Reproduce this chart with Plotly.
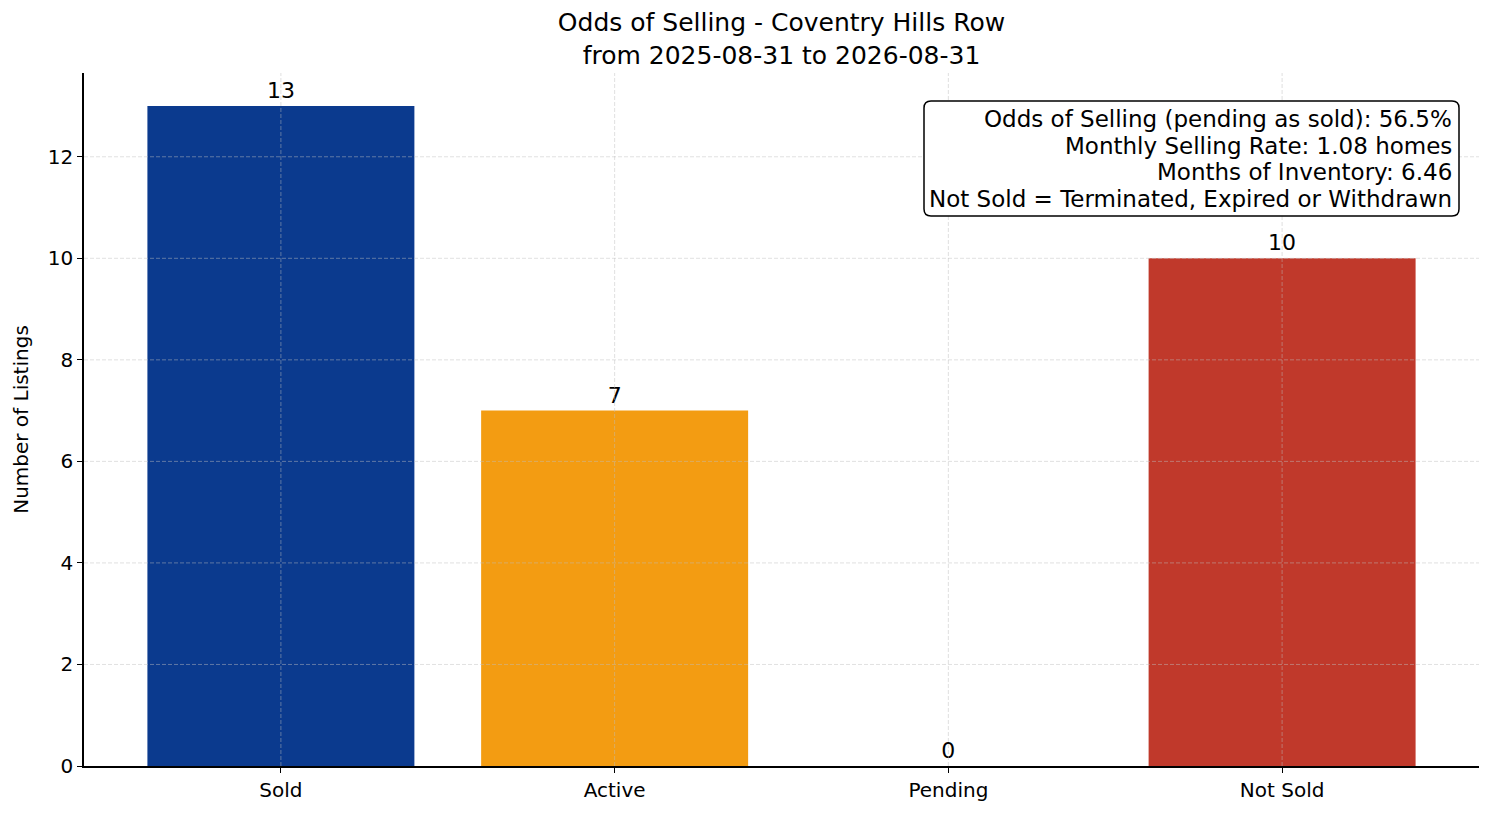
import plotly.graph_objects as go

# data
categories = ["Sold", "Active", "Pending", "Not Sold"]
counts = [13, 7, 0, 10]
bar_colors = ["#0b3a8e", "#f39c12", "#c0392b", "#c0392b"]
y_ticks = [0, 2, 4, 6, 8, 10, 12]
summary_lines = [
    "Odds of Selling (pending as sold): 56.5%",
    "Monthly Selling Rate: 1.08 homes",
    "Months of Inventory: 6.46",
    "Not Sold = Terminated, Expired or Withdrawn",
]
title_lines = ["Odds of Selling - Coventry Hills Row", "from 2025-08-31 to 2026-08-31"]

FONT = "DejaVu Sans"

# the page has an 8px body margin, so the figure is shrunk by that much
W, H = 1486, 808
ML, MR, MT, MB = 76, 15, 65, 50
PW, PH = W - ML - MR, H - MT - MB

fig = go.Figure()
fig.add_trace(go.Bar(
    x=list(range(len(categories))), y=counts,
    width=0.8,
    marker=dict(color=bar_colors, line=dict(width=0)),
    text=[str(c) for c in counts],
    textposition="outside",
    textfont=dict(family=FONT, size=22, color="black"),
    cliponaxis=False,
    showlegend=False,
))

# matplotlib-style grid drawn on top of the bars
grid = dict(color="rgba(190,190,190,0.6)", width=0.8, dash="4px,2px")
for t in y_ticks[1:]:
    fig.add_shape(type="line", xref="paper", yref="y", x0=0, x1=1, y0=t, y1=t,
                  line=grid, layer="above")
for i in range(len(categories)):
    fig.add_shape(type="line", xref="x", yref="paper", x0=i, x1=i, y0=0, y1=1,
                  line=grid, layer="above")

# rounded text box (top-right)
bx0, bx1 = 840 / PW, 1375 / PW
by0, by1 = 1 - 143 / PH, 1 - 28 / PH
rx, ry = 7 / PW, 7 / PH
path = (f"M {bx0 + rx},{by1} L {bx1 - rx},{by1} Q {bx1},{by1} {bx1},{by1 - ry} "
        f"L {bx1},{by0 + ry} Q {bx1},{by0} {bx1 - rx},{by0} "
        f"L {bx0 + rx},{by0} Q {bx0},{by0} {bx0},{by0 + ry} "
        f"L {bx0},{by1 - ry} Q {bx0},{by1} {bx0 + rx},{by1} Z")
fig.add_shape(type="path", xref="paper", yref="paper", path=path,
              line=dict(color="black", width=1.5), fillcolor="white", layer="above")
for i, line in enumerate(summary_lines):
    fig.add_annotation(
        xref="paper", yref="paper", x=1370 / PW, y=1 - (46 + 26.7 * i) / PH,
        xanchor="right", yanchor="middle", align="right",
        text=line, showarrow=False,
        font=dict(family=FONT, size=23, color="black"),
    )

fig.update_layout(
    width=W, height=H,
    title=dict(text="<br>".join(title_lines), x=(ML + PW / 2) / W, xanchor="center",
               yref="container", y=1 - 23 / H, yanchor="middle",
               font=dict(family=FONT, size=25, color="black")),
    font=dict(family=FONT, size=20, color="black"),
    plot_bgcolor="white", paper_bgcolor="white",
    margin=dict(l=ML, r=MR, t=MT, b=MB),
    xaxis=dict(
        tickmode="array", tickvals=list(range(len(categories))), ticktext=categories,
        range=[-0.59, len(categories) - 1 + 0.59],
        showgrid=False, zeroline=False,
        showline=True, linecolor="black", linewidth=1.5,
        ticks="outside", ticklen=5, tickcolor="black",
        tickfont=dict(family=FONT, size=20),
    ),
    yaxis=dict(
        tickmode="array", tickvals=y_ticks,
        range=[0, max(counts) * 1.05],
        showgrid=False, zeroline=False,
        showline=True, linecolor="black", linewidth=1.5,
        ticks="outside", ticklen=5, tickcolor="black",
        tickfont=dict(family=FONT, size=20),
        title=dict(text="Number of Listings", standoff=14, font=dict(family=FONT, size=20)),
    ),
)

fig.write_html("out.html")
